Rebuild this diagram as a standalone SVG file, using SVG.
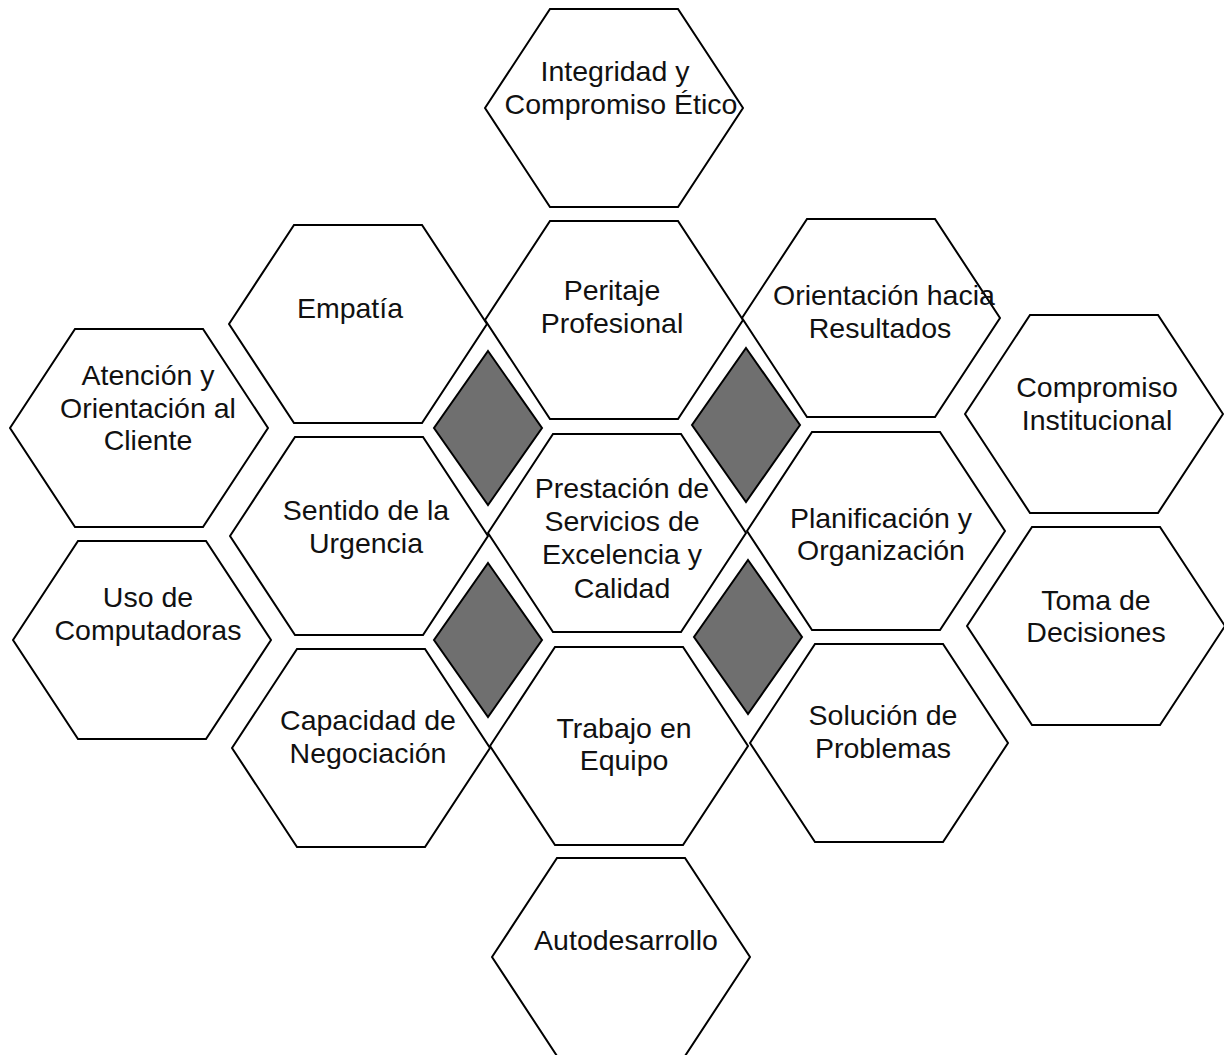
<svg xmlns="http://www.w3.org/2000/svg" xmlns:xlink="http://www.w3.org/1999/xlink" width="1224" height="1055" viewBox="0 0 1224 1055">
<defs>
<style>
.hex{fill:#fff;stroke:#000;stroke-width:2;stroke-linejoin:miter}
.dia{fill:#6f6f6f;stroke:#000;stroke-width:2}
.t{font-family:"Liberation Sans",Arial,sans-serif;font-size:28.5px;fill:#111;text-anchor:middle}
</style>
<polygon id="hexShape" points="-129,0 -64,-99 64,-99 129,0 64,99 -64,99"/>
<polygon id="diaShape" points="0,-77 54,0 0,77 -54,0"/>
</defs>
<rect width="1224" height="1055" fill="#fff"/>
<g id="connectors"></g>
<g id="integridad"><use xlink:href="#hexShape" href="#hexShape" class="hex" transform="translate(614,108)"/><text class="t" x="615" y="81">Integridad y</text><text class="t" x="621" y="114">Compromiso Ético</text></g>
<g id="empatia"><use xlink:href="#hexShape" href="#hexShape" class="hex" transform="translate(358,324)"/><text class="t" x="350" y="318">Empatía</text></g>
<g id="peritaje"><use xlink:href="#hexShape" href="#hexShape" class="hex" transform="translate(614,320)"/><text class="t" x="612" y="300">Peritaje</text><text class="t" x="612" y="333">Profesional</text></g>
<g id="orientacion"><use xlink:href="#hexShape" href="#hexShape" class="hex" transform="translate(871,318)"/><text class="t" x="884" y="305">Orientación hacia</text><text class="t" x="880" y="338">Resultados</text></g>
<g id="atencion"><use xlink:href="#hexShape" href="#hexShape" class="hex" transform="translate(139,428)"/><text class="t" x="148" y="385">Atención y</text><text class="t" x="148" y="418">Orientación al</text><text class="t" x="148" y="450">Cliente</text></g>
<g id="compromiso"><use xlink:href="#hexShape" href="#hexShape" class="hex" transform="translate(1094,414)"/><text class="t" x="1097" y="397">Compromiso</text><text class="t" x="1097" y="430">Institucional</text></g>
<g id="sentido"><use xlink:href="#hexShape" href="#hexShape" class="hex" transform="translate(359,536)"/><text class="t" x="366" y="520">Sentido de la</text><text class="t" x="366" y="553">Urgencia</text></g>
<g id="prestacion"><use xlink:href="#hexShape" href="#hexShape" class="hex" transform="translate(617,533)"/><text class="t" x="622" y="498">Prestación de</text><text class="t" x="622" y="531">Servicios de</text><text class="t" x="622" y="564">Excelencia y</text><text class="t" x="622" y="598">Calidad</text></g>
<g id="planificacion"><use xlink:href="#hexShape" href="#hexShape" class="hex" transform="translate(876,531)"/><text class="t" x="881" y="528">Planificación y</text><text class="t" x="881" y="560">Organización</text></g>
<g id="uso"><use xlink:href="#hexShape" href="#hexShape" class="hex" transform="translate(142,640)"/><text class="t" x="148" y="607">Uso de</text><text class="t" x="148" y="640">Computadoras</text></g>
<g id="toma"><use xlink:href="#hexShape" href="#hexShape" class="hex" transform="translate(1096,626)"/><text class="t" x="1096" y="610">Toma de</text><text class="t" x="1096" y="642">Decisiones</text></g>
<g id="capacidad"><use xlink:href="#hexShape" href="#hexShape" class="hex" transform="translate(361,748)"/><text class="t" x="368" y="730">Capacidad de</text><text class="t" x="368" y="763">Negociación</text></g>
<g id="trabajo"><use xlink:href="#hexShape" href="#hexShape" class="hex" transform="translate(619,746)"/><text class="t" x="624" y="738">Trabajo en</text><text class="t" x="624" y="770">Equipo</text></g>
<g id="solucion"><use xlink:href="#hexShape" href="#hexShape" class="hex" transform="translate(879,743)"/><text class="t" x="883" y="725">Solución de</text><text class="t" x="883" y="758">Problemas</text></g>
<g id="autodesarrollo"><use xlink:href="#hexShape" href="#hexShape" class="hex" transform="translate(621,957)"/><text class="t" x="626" y="950">Autodesarrollo</text></g>
<g id="diamonds">
<use xlink:href="#diaShape" href="#diaShape" class="dia" transform="translate(488,428)"/>
<use xlink:href="#diaShape" href="#diaShape" class="dia" transform="translate(746,425)"/>
<use xlink:href="#diaShape" href="#diaShape" class="dia" transform="translate(488,640)"/>
<use xlink:href="#diaShape" href="#diaShape" class="dia" transform="translate(748,637)"/>
</g>
</svg>
